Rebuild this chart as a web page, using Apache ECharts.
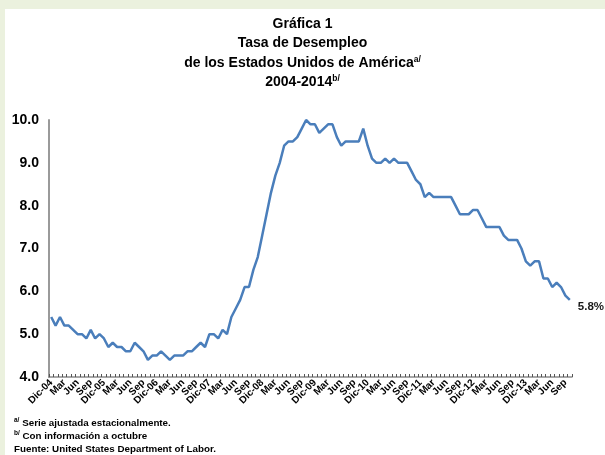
<!DOCTYPE html>
<html>
<head>
<meta charset="utf-8">
<script src="https://cdn.jsdelivr.net/npm/echarts@6/dist/echarts.min.js"></script>
<style>
html,body{margin:0;padding:0;background:#fff;}
#c{width:605px;height:455px;}
</style>
</head>
<body>
<div id="c"></div>
<script>
// Month names (Spanish abbreviations) and years for the category axis
const monthNames = ['Ene','Feb','Mar','Abr','May','Jun','Jul','Ago','Sep','Oct','Nov','Dic'];
const startYear = 2004, startMonth = 11; // Dic-04
const nPoints = 119;                      // Dic-04 .. Oct-14

// Unemployment rate (%), monthly, Dic-04 .. Oct-14
const rate2004 = [5.4];
const rate2005 = [5.2,5.4,5.2,5.2,5.1,5.0,5.0,4.9,5.1,4.9,5.0,4.9];
const rate2006 = [4.7,4.8,4.7,4.7,4.6,4.6,4.8,4.7,4.6,4.4,4.5,4.5];
const rate2007 = [4.6,4.5,4.4,4.5,4.5,4.5,4.6,4.6,4.7,4.8,4.7,5.0];
const rate2008 = [5.0,4.9,5.1,5.0,5.4,5.6,5.8,6.1,6.1,6.5,6.8,7.3];
const rate2009 = [7.8,8.3,8.7,9.0,9.4,9.5,9.5,9.6,9.8,10.0,9.9,9.9];
const rate2010 = [9.7,9.8,9.9,9.9,9.6,9.4,9.5,9.5,9.5,9.5,9.8,9.4];
const rate2011 = [9.1,9.0,9.0,9.1,9.0,9.1,9.0,9.0,9.0,8.8,8.6,8.5];
const rate2012 = [8.2,8.3,8.2,8.2,8.2,8.2,8.2,8.0,7.8,7.8,7.8,7.9];
const rate2013 = [7.9,7.7,7.5,7.5,7.5,7.5,7.3,7.2,7.2,7.2,7.0,6.7];
const rate2014 = [6.6,6.7,6.7,6.3,6.3,6.1,6.2,6.1,5.9,5.8];

const values = [].concat(rate2004,rate2005,rate2006,rate2007,rate2008,rate2009,
                         rate2010,rate2011,rate2012,rate2013,rate2014);

// Category labels: "Dic-YY" for December, month abbreviation otherwise
const categories = [];
for (let i = 0; i < nPoints; i++) {
  const m = (startMonth + i) % 12;
  const y = startYear + Math.floor((startMonth + i) / 12);
  categories.push(m === 11 ? 'Dic-' + String(y).slice(2) : monthNames[m]);
}
const labelEvery = 3; // Dic, Mar, Jun, Sep

// Y axis ticks
const yMin = 4, yMax = 10, yStep = 1;

const chart = echarts.init(document.getElementById('c'), null, {renderer:'canvas'});
const FONT = 'Liberation Sans, Arial, sans-serif';

chart.setOption({
  backgroundColor: '#ebf1de',
  animation: false,
  graphic: [
    {type:'rect', shape:{x:5, y:9, width:600, height:446}, style:{fill:'#ffffff'}, z:-10},
    {type:'text', left:14, top:417, style:{
      text:'{s|a/}{t| Serie ajustada estacionalmente.}\n{s|b/}{t| Con información a octubre}\n{t|Fuente: United States Department of Labor.}',
      rich:{
        t:{fontFamily:FONT, fontWeight:'bold', fontSize:9.8, fill:'#000', lineHeight:13},
        s:{fontFamily:FONT, fontWeight:'bold', fontSize:6.5, fill:'#000', lineHeight:13, verticalAlign:'top'}
      }
    }}
  ],
  title: {
    left: 'center',
    top: 9,
    text: '{t|Gráfica 1}\n{t|Tasa de Desempleo}\n{t|de los Estados Unidos de América}{s|a/}\n{t|2004-2014}{s|b/}',
    textStyle: {
      rich: {
        t: {fontFamily:FONT, fontWeight:'bold', fontSize:14, color:'#000', lineHeight:19.5},
        s: {fontFamily:FONT, fontWeight:'bold', fontSize:8.5, color:'#000', lineHeight:19.5, verticalAlign:'top', padding:[2,0,0,0]}
      }
    }
  },
  grid: {left:49, right:33, top:120, bottom:78, containLabel:false},
  xAxis: {
    type:'category',
    data: categories,
    boundaryGap: true,
    axisLine: {lineStyle:{color:'#8a8a8a', width:1.5}},
    axisTick: {show:true, interval:0, inside:true, length:3, lineStyle:{color:'#555', width:1}},
    axisLabel: {
      interval: 0,
      formatter: (v, i) => (i % labelEvery === 0 ? v : ''),
      hideOverlap: false,
      rotate: 45,
      margin: 4,
      fontFamily: FONT,
      fontWeight: 'bold',
      fontSize: 10,
      color: '#000'
    },
    splitLine: {show:false}
  },
  yAxis: {
    type:'value',
    min: yMin, max: yMax, interval: yStep,
    axisLine: {show:true, lineStyle:{color:'#9a9a9a', width:2}},
    axisTick: {show:false},
    axisLabel: {
      margin: 10,
      fontFamily: FONT,
      fontWeight: 'bold',
      fontSize: 14,
      color: '#000',
      formatter: v => v.toFixed(1)
    },
    splitLine: {show:false}
  },
  series: [{
    type:'line',
    data: values,
    symbol:'none',
    lineStyle:{color:'#4a7ebb', width:2.5},
    endLabel: {
      show:true,
      formatter: p => p.value.toFixed(1) + '%',
      fontFamily: FONT,
      fontWeight: 'bold',
      fontSize: 11.5,
      color: '#1a1a1a',
      distance: 8,
      offset: [0, 7]
    }
  }]
});
</script>
</body>
</html>
